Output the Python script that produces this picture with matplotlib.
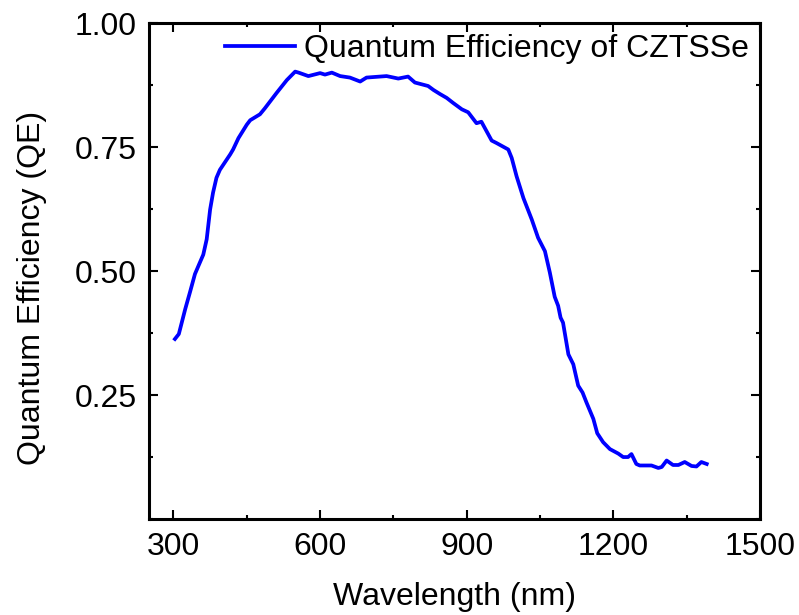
import matplotlib
matplotlib.use('Agg')
import matplotlib.pyplot as plt
from matplotlib.ticker import MultipleLocator

# values
wavelength = [303, 311, 324, 334, 344, 354, 361, 368, 375, 381,
              388, 395, 416, 422, 433, 450, 457, 477, 487, 511,
              532, 549, 556, 576, 600, 610, 624, 641, 661, 682,
              695, 736, 760, 780, 794, 821, 832, 845, 859, 872,
              890, 903, 920, 930, 951, 961, 985, 992, 1002, 1016,
              1033, 1046, 1060, 1070, 1080, 1087, 1092, 1097, 1108, 1118,
              1128, 1137, 1145, 1159, 1167, 1179, 1193, 1210, 1220, 1230,
              1237, 1247, 1254, 1278, 1292, 1299, 1309, 1322, 1333, 1346,
              1360, 1370, 1380, 1391]
qe = [0.363, 0.373, 0.423, 0.458, 0.494, 0.517, 0.533, 0.564, 0.624, 0.658,
      0.688, 0.704, 0.735, 0.745, 0.768, 0.795, 0.804, 0.816, 0.828, 0.859,
      0.885, 0.902, 0.900, 0.893, 0.899, 0.896, 0.900, 0.893, 0.890, 0.882,
      0.890, 0.893, 0.888, 0.892, 0.880, 0.873, 0.865, 0.857, 0.849, 0.839,
      0.826, 0.820, 0.798, 0.801, 0.763, 0.758, 0.745, 0.728, 0.691, 0.647,
      0.604, 0.567, 0.540, 0.497, 0.448, 0.430, 0.406, 0.396, 0.332, 0.312,
      0.269, 0.255, 0.235, 0.202, 0.173, 0.155, 0.141, 0.132, 0.125, 0.125,
      0.131, 0.111, 0.108, 0.108, 0.103, 0.105, 0.118, 0.109, 0.109, 0.115,
      0.107, 0.106, 0.115, 0.111]

x_ticks = [300, 600, 900, 1200, 1500]
y_ticks = [0.25, 0.50, 0.75, 1.00]

plt.rcParams['font.family'] = ['Liberation Sans', 'DejaVu Sans']

fig = plt.figure(figsize=(7.99, 6.15), dpi=100)
ax = fig.add_axes([0.1865, 0.156, 0.7647, 0.8066])

ax.plot(wavelength, qe, color='#0000ff', linewidth=2.7,
        label='Quantum Efficiency of CZTSSe')

ax.set_xlim(250, 1500)
ax.set_ylim(0, 1.0)
ax.set_xticks(x_ticks)
ax.set_yticks(y_ticks)
ax.set_yticklabels([f'{v:.2f}' for v in y_ticks])
ax.xaxis.set_minor_locator(MultipleLocator(150))
ax.yaxis.set_minor_locator(MultipleLocator(0.125))

ax.tick_params(which='both', direction='in', top=True, right=True,
               width=1.5, labelsize=23)
ax.tick_params(which='major', length=6.5, pad=9)
ax.tick_params(which='minor', length=3.2)
for s in ax.spines.values():
    s.set_linewidth(2.2)

ax.set_xlabel('Wavelength (nm)', fontsize=23, labelpad=15)
ax.set_ylabel('Quantum Efficiency (QE)', fontsize=23, labelpad=20, y=0.465)

ax.legend(loc='upper right', frameon=False, fontsize=23,
          handlelength=2.2, handletextpad=0.28, borderaxespad=0.25,
          borderpad=0.1)

plt.savefig('out.png', dpi=100)
plt.close()
